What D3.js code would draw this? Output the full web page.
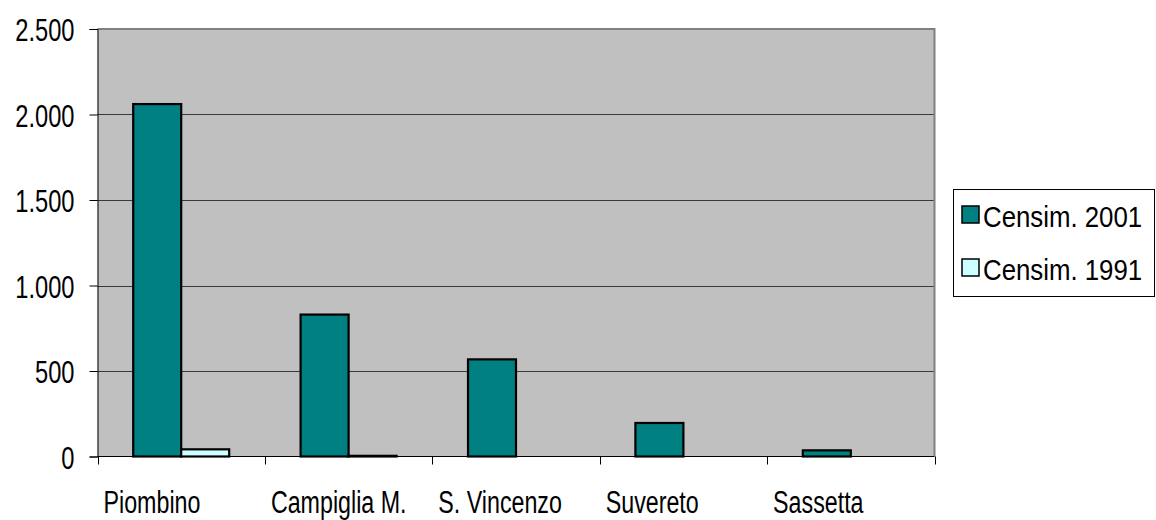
<!DOCTYPE html>
<html><head><meta charset="utf-8">
<script src="https://cdn.jsdelivr.net/npm/d3@7"></script>
<style>
html,body{margin:0;padding:0;background:#fff;}
svg{display:block;}
text{font-family:"Liberation Sans",Arial,sans-serif;fill:#000;}
</style></head>
<body>
<svg id="chart" width="1156" height="520"></svg>
<script>
const categories = ["Piombino", "Campiglia M.", "S. Vincenzo", "Suvereto", "Sassetta"];
const seriesNames = ["Censim. 2001", "Censim. 1991"];
const values2001 = [2061, 830, 568, 196, 36];
const values1991 = [42, 4, 0, 0, 0];
const yTicks = [0, 500, 1000, 1500, 2000, 2500];
const colors = ["#008080", "#ccffff"];

const svg = d3.select("#chart");
const L = 97.5, R = 934.5, T = 29, B = 456.5;

const locale = d3.formatLocale({decimal: ",", thousands: ".", grouping: [3], currency: ["€", ""]});
const fmt = locale.format(",d");

const x = d3.scaleBand().domain(categories).range([L, R]).padding(0);
const x1 = d3.scaleBand().domain(seriesNames).range([0, x.bandwidth()]).paddingInner(0).paddingOuter(0.744);
const y = d3.scaleLinear().domain([0, 2500]).range([B, T]);

// plot background
svg.append("rect").attr("x", L).attr("y", T).attr("width", R - L).attr("height", B - T).attr("fill", "#c0c0c0");

// gridlines
svg.append("g").selectAll("line").data(yTicks.filter(d => d > 0 && d < 2500)).join("line")
  .attr("x1", L).attr("x2", R).attr("y1", d => Math.round(y(d)) + 0.5).attr("y2", d => Math.round(y(d)) + 0.5)
  .attr("stroke", "#3a3a3a").attr("stroke-width", 1);

// top and right border
svg.append("path").attr("d", `M${L},${T} H${R} V${B}`).attr("fill", "none").attr("stroke", "#808080").attr("stroke-width", 2);

// bars
const rows = categories.map((c, i) => ({cat: c, vals: [values2001[i], values1991[i]]}));
const g = svg.append("g");
rows.forEach(r => {
  r.vals.forEach((v, j) => {
    if (v <= 0) return;
    const y0 = y(v), h = B - y0;
    g.append("rect")
      .attr("x", x(r.cat) + x1(seriesNames[j]))
      .attr("y", y0)
      .attr("width", x1.bandwidth())
      .attr("height", Math.max(h, 0.5))
      .attr("fill", colors[j])
      .attr("stroke", "#000").attr("stroke-width", 2.2);
  });
});

// y axis
const yAxis = d3.axisLeft(y).tickValues(yTicks).tickSize(8).tickPadding(15).tickFormat(fmt);
const ya = svg.append("g").attr("transform", `translate(${L},0)`).call(yAxis);
ya.select(".domain").attr("stroke", "#000");
ya.selectAll(".tick line").attr("stroke", "#000");
ya.selectAll(".tick text").attr("font-size", 32).attr("font-family", "Liberation Sans, Arial, sans-serif")
  .attr("dy", "0.36em")
  .each(function(){
    const t = d3.select(this);
    const xx = +t.attr("x");
    t.attr("x", null).attr("transform", `translate(${xx},0) scale(0.74,1)`);
  });

// x axis (ticks between categories)
const xEdges = categories.map(c => x(c)).concat([R]);
const xa = svg.append("g");
xa.append("line").attr("x1", L).attr("x2", R).attr("y1", B).attr("y2", B).attr("stroke", "#000").attr("stroke-width", 1);
xa.selectAll("line.tk").data(xEdges).join("line").attr("class", "tk")
  .attr("x1", d => Math.round(d) + 0.5).attr("x2", d => Math.round(d) + 0.5).attr("y1", B).attr("y2", B + 8)
  .attr("stroke", "#000");
xa.selectAll("text").data(categories).join("text")
  .attr("transform", d => `translate(${x(d) + 6},513) scale(0.75,1)`)
  .attr("font-size", 31)
  .text(d => d);

// legend
const lg = svg.append("g");
lg.append("rect").attr("x", 953.5).attr("y", 189.5).attr("width", 201).attr("height", 107)
  .attr("fill", "#fff").attr("stroke", "#000").attr("stroke-width", 1);
seriesNames.forEach((s, i) => {
  const yy = 206 + i * 53;
  lg.append("rect").attr("x", 962).attr("y", yy).attr("width", 17).attr("height", 17)
    .attr("fill", colors[i]).attr("stroke", "#000").attr("stroke-width", 1.5);
  lg.append("text").attr("transform", `translate(983,${yy + 21}) scale(0.89,1)`)
    .attr("font-size", 29).text(s);
});
</script>
</body></html>
